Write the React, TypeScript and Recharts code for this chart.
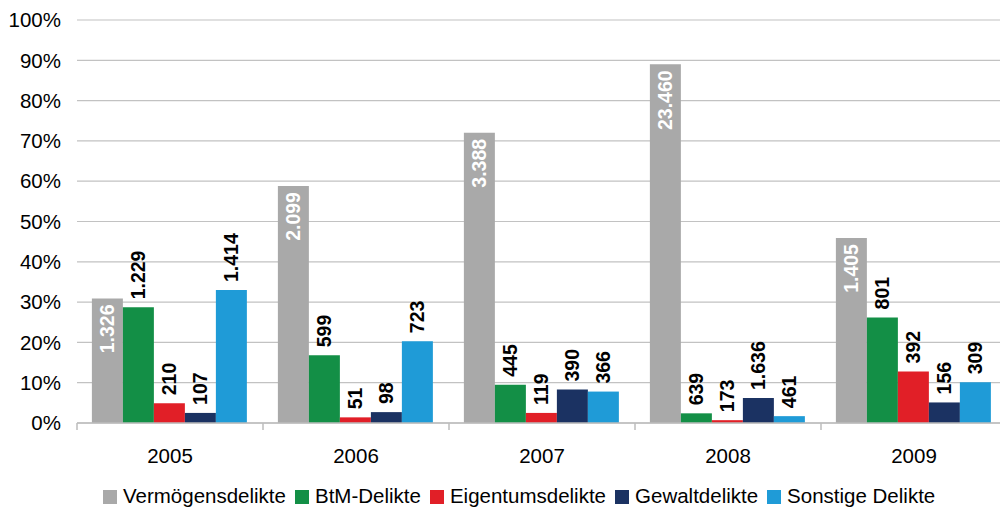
import React from 'react'
import { BarChart, Bar, XAxis, YAxis, CartesianGrid, Legend, LabelList } from 'recharts'

const years = ['2005', '2006', '2007', '2008', '2009']

// share of the yearly total (%)
const vermoegenPct = [30.9, 58.8, 72.0, 89.0, 45.9]
const btmPct = [28.7, 16.8, 9.5, 2.4, 26.2]
const eigentumPct = [4.9, 1.4, 2.5, 0.7, 12.8]
const gewaltPct = [2.5, 2.7, 8.3, 6.2, 5.1]
const sonstigePct = [33.0, 20.3, 7.8, 1.7, 10.1]

// absolute case counts shown on the bars
const vermoegenCount = [1326, 2099, 3388, 23460, 1405]
const btmCount = [1229, 599, 445, 639, 801]
const eigentumCount = [210, 51, 119, 173, 392]
const gewaltCount = [107, 98, 390, 1636, 156]
const sonstigeCount = [1414, 723, 366, 461, 309]

const yTicks = [0, 10, 20, 30, 40, 50, 60, 70, 80, 90, 100]

const SERIES = [
  { key: 'verm', name: 'Vermögensdelikte', color: '#a9a9a9', pct: vermoegenPct, count: vermoegenCount, inside: true },
  { key: 'btm', name: 'BtM-Delikte', color: '#138f46', pct: btmPct, count: btmCount, inside: false },
  { key: 'eig', name: 'Eigentumsdelikte', color: '#e11f27', pct: eigentumPct, count: eigentumCount, inside: false },
  { key: 'gew', name: 'Gewaltdelikte', color: '#1b3262', pct: gewaltPct, count: gewaltCount, inside: false },
  { key: 'son', name: 'Sonstige Delikte', color: '#1f9bd7', pct: sonstigePct, count: sonstigeCount, inside: false },
]

const data = years.map((year, i) => {
  const row: Record<string, string | number> = { year }
  SERIES.forEach(s => {
    row[s.key] = s.pct[i]
    row[s.key + 'Count'] = s.count[i]
  })
  return row
})

const W = 1010
const H = 509
const MARGIN = { top: 20, right: 3, bottom: 0, left: 0 }
const Y_WIDTH = 77
const BAND = (W - MARGIN.left - MARGIN.right - Y_WIDTH) / years.length
const FONT = '"Liberation Sans", Arial, Helvetica, sans-serif'

const fmt = (n: number) => String(n).replace(/\B(?=(\d{3})+(?!\d))/g, '.')

const makeLabel = (inside: boolean) => (props: any) => {
  const { x, y, width, value } = props
  const cx = Number(x) + Number(width) / 2
  const ty = inside ? Number(y) + 6 : Number(y) - 8
  return (
    <text
      x={cx}
      y={ty}
      dy="0.35em"
      transform={`rotate(-90 ${cx} ${ty})`}
      textAnchor={inside ? 'end' : 'start'}
      fill={inside ? '#ffffff' : '#000000'}
      fontWeight="bold"
      fontSize={19.5}
      fontFamily={FONT}
    >
      {fmt(Number(value))}
    </text>
  )
}

const YearTick = (props: any) => {
  const { x, y, payload, index } = props
  const half = BAND / 2
  return (
    <g>
      <line x1={x - half} x2={x - half} y1={y} y2={y + 7} stroke="#bdbdbd" strokeWidth={1.5} />
      {index === years.length - 1 && (
        <line x1={x + half} x2={x + half} y1={y} y2={y + 7} stroke="#bdbdbd" strokeWidth={1.5} />
      )}
      <text x={x} y={y + 40} textAnchor="middle" fill="#000" fontSize={20.5} fontFamily={FONT}>
        {payload.value}
      </text>
    </g>
  )
}

const LegendContent = () => (
  <div style={{ display: 'flex', alignItems: 'center', fontFamily: FONT, fontSize: 20.5, lineHeight: '24px', color: '#000', whiteSpace: 'nowrap' }}>
    {SERIES.map((s, i) => (
      <div key={s.key} style={{ display: 'flex', alignItems: 'center', marginLeft: i === 0 ? 0 : 9 }}>
        <span style={{ display: 'inline-block', width: 14, height: 14, background: s.color, marginRight: 6, marginTop: 1 }} />
        <span>{s.name}</span>
      </div>
    ))}
  </div>
)

const App = () => {
  return (
    <div style={{ position: 'absolute', left: 0, top: 0, width: 1000, height: H, overflow: 'hidden', background: '#fff' }}>
      <BarChart width={W} height={H} data={data} margin={MARGIN} barCategoryGap="8%" barGap={0}>
        <CartesianGrid vertical={false} stroke="#c2c2c2" strokeWidth={1.2} />
        <XAxis
          dataKey="year"
          height={86}
          tickLine={false}
          tickSize={0}
          tickMargin={0}
          axisLine={{ stroke: '#bdbdbd', strokeWidth: 1.5 }}
          tick={<YearTick />}
          interval={0}
        />
        <YAxis
          width={Y_WIDTH}
          domain={[0, 100]}
          ticks={yTicks}
          tickFormatter={(v: number) => `${v}%`}
          axisLine={false}
          tickLine={false}
          tickSize={0}
          tickMargin={16}
          tick={{ fill: '#000', fontSize: 20.5, fontFamily: FONT }}
        />
        {SERIES.map(s => (
          <Bar key={s.key} dataKey={s.key} name={s.name} fill={s.color} isAnimationActive={false}>
            <LabelList dataKey={s.key + 'Count'} content={makeLabel(s.inside)} />
          </Bar>
        ))}
        <Legend
          layout="horizontal"
          verticalAlign="middle"
          align="center"
          content={<LegendContent />}
          wrapperStyle={{ left: 103, top: 484, width: 'auto' }}
        />
      </BarChart>
    </div>
  )
}

export default App
